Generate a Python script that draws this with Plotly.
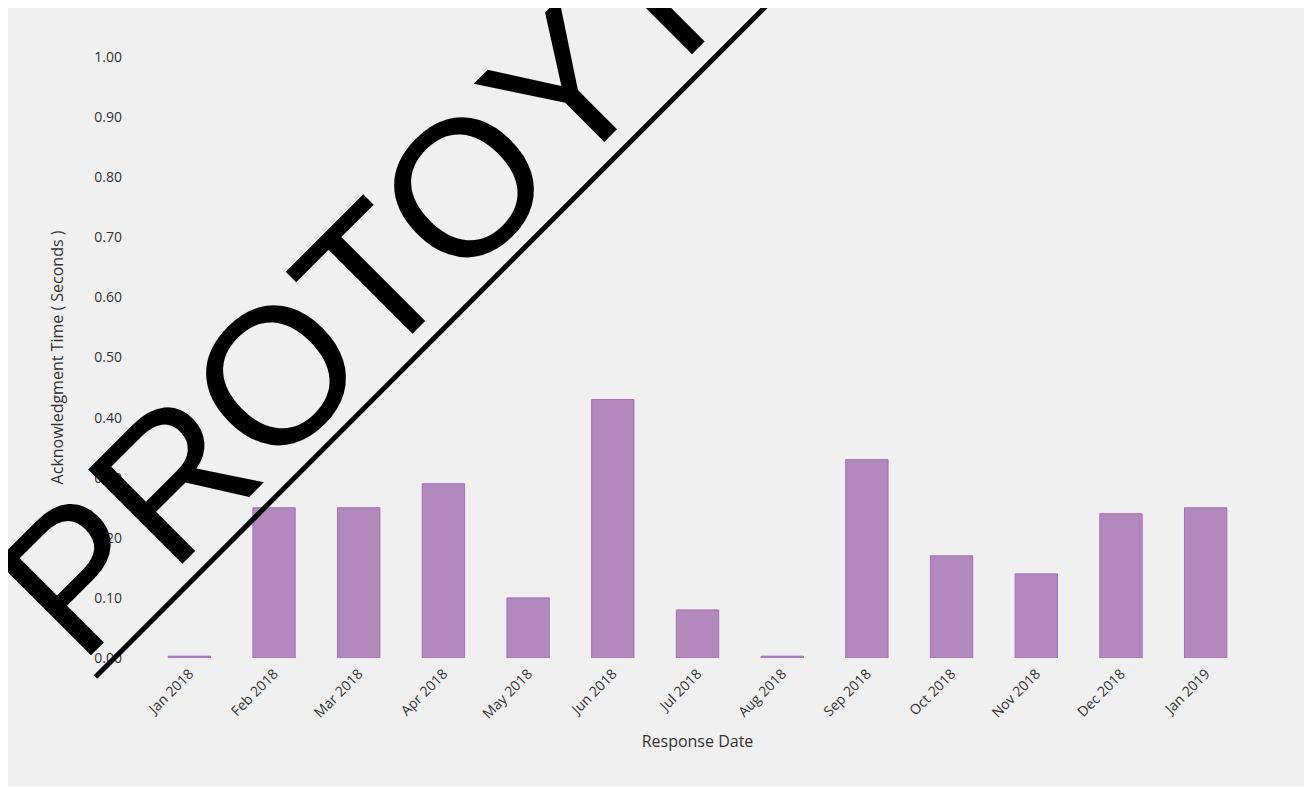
import plotly.graph_objects as go

# monthly acknowledgment times
months = ["Jan 2018", "Feb 2018", "Mar 2018", "Apr 2018", "May 2018", "Jun 2018",
          "Jul 2018", "Aug 2018", "Sep 2018", "Oct 2018", "Nov 2018", "Dec 2018", "Jan 2019"]
ack_seconds = [0.003, 0.25, 0.25, 0.29, 0.10, 0.43, 0.08, 0.003, 0.33, 0.17, 0.14, 0.24, 0.25]

y_ticks = [0.0, 0.1, 0.2, 0.3, 0.4, 0.5, 0.6, 0.7, 0.8, 0.9, 1.0]

watermark_text = "PROTOYTPE"

BG = "#f0f0f0"
FONT = dict(family="Open Sans, sans-serif", size=13, color="#333")
TICK_FONT = dict(family="Open Sans, sans-serif", size=14, color="#333")

fig = go.Figure()

fig.add_trace(go.Bar(
    x=months,
    y=ack_seconds,
    marker=dict(color="#b189bc", line=dict(color="#a66cba", width=1)),
    width=0.5,
))

# watermark overlay
fig.add_annotation(
    text=watermark_text,
    xref="paper", yref="paper",
    x=0.278, y=0.767,
    xanchor="center", yanchor="middle",
    textangle=-45,
    showarrow=False,
    font=dict(family="Liberation Sans, Arial, sans-serif", size=194, color="black"),
)
fig.add_shape(
    type="line",
    xref="paper", yref="paper",
    x0=-0.0468, y0=-0.0316, x1=0.6685, y1=1.2795,
    line=dict(color="black", width=5),
)

fig.update_layout(
    width=1296,
    height=778,
    margin=dict(l=139, r=56, t=49, b=128),
    paper_bgcolor=BG,
    plot_bgcolor=BG,
    font=FONT,
    showlegend=False,
    xaxis=dict(
        title=dict(text="Response Date", standoff=14),
        tickangle=-45,
        tickfont=TICK_FONT,
        showgrid=False,
        zeroline=False,
        showline=False,
        ticklabelstandoff=4,
    ),
    yaxis=dict(
        title=dict(text="Acknowledgment Time ( Seconds )", standoff=26),
        range=[0, 1],
        tickvals=y_ticks,
        tickformat=".2f",
        tickfont=TICK_FONT,
        showgrid=False,
        zeroline=False,
        showline=False,
        ticklabelstandoff=24,
    ),
)

fig.write_html("out.html")
